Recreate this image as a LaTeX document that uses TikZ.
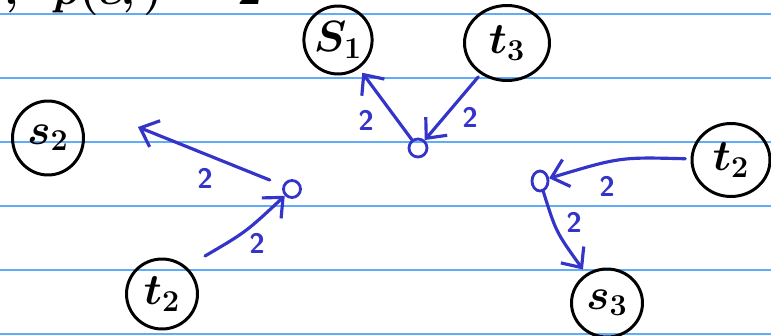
\documentclass[tikz,border=0pt]{standalone}
\usetikzlibrary{shapes.geometric,arrows.meta}
\definecolor{rulecol}{RGB}{95,172,250}
\definecolor{ink}{RGB}{52,52,200}
\begin{document}
\begin{tikzpicture}[x=0.02cm,y=-0.02cm,
  ruleline/.style={draw=rulecol,line width=0.9pt},
  term/.style={ellipse,draw=black,line width=1.7pt,inner sep=0pt,
    font=\fontsize{24}{24}\selectfont\boldmath},
  hub/.style={ellipse,draw=ink,line width=1.6pt,inner sep=0pt},
  flow/.style={draw=ink,line width=1.8pt,line cap=round,line join=round,
    -{Straight Barb[length=9pt,width=16pt,line width=1.8pt]}},
  wt/.style={text=ink,font=\fontsize{16}{16}\sffamily\bfseries}]
\clip (0,0) rectangle (771,335);
\fill[white] (0,0) rectangle (771,335);

% ruled paper
\foreach \y in {14,78,142,206,270,334}
  \draw[ruleline] (0,\y) -- (771,\y);

% line of text above the graph, cut by the top edge
\node[anchor=base west,inner sep=0pt,font=\fontsize{26}{26}\selectfont\boldmath]
  (head) at (4,4) {$,\hspace{15pt}p(c,)\hspace{7pt}=\hspace{-2pt}2$};

% terminals
\node[term,minimum width=1.30cm,minimum height=1.36cm] (s1) at (338,40) {$S_1$};
\node[term,minimum width=1.70cm,minimum height=1.50cm] (t3) at (507,43) {$t_3$};
\node[term,minimum width=1.42cm,minimum height=1.48cm] (s2) at (48,138) {$s_2$};
\node[term,minimum width=1.56cm,minimum height=1.46cm] (t2r) at (731,160) {$t_2$};
\node[term,minimum width=1.42cm,minimum height=1.36cm] (s3) at (607,303) {$s_3$};
\node[term,minimum width=1.42cm,minimum height=1.40cm] (t2b) at (162,294) {$t_2$};

% gadget vertices
\node[hub,minimum width=0.36cm,minimum height=0.36cm] (h1) at (418,148) {};
\node[hub,minimum width=0.34cm,minimum height=0.34cm] (h2) at (292,189) {};
\node[hub,minimum width=0.32cm,minimum height=0.40cm] (h3) at (540,181) {};

% free ends
\coordinate (e1) at (138,127);
\coordinate (e2) at (205,256);

% flow arcs
\draw[flow,shorten >=3pt] (h1) -- (s1);
\draw[flow,shorten <=2pt] (t3) -- (h1);
\draw[flow,shorten <=8pt] (h2) -- (e1);
\draw[flow] (e2) .. controls (246,232) .. (h2);
\draw[flow,shorten <=3pt] (t2r) .. controls (620,157) .. (h3);
\draw[flow,shorten >=3pt] (h3) .. controls (556,232) .. (s3);

% capacities
\node[wt] (w1) at (366,120) {2};
\node[wt] (w2) at (470,117) {2};
\node[wt] (w3) at (205,178) {2};
\node[wt] (w4) at (257,243) {2};
\node[wt] (w5) at (607,186) {2};
\node[wt] (w6) at (574,222) {2};
\end{tikzpicture}
\end{document}
